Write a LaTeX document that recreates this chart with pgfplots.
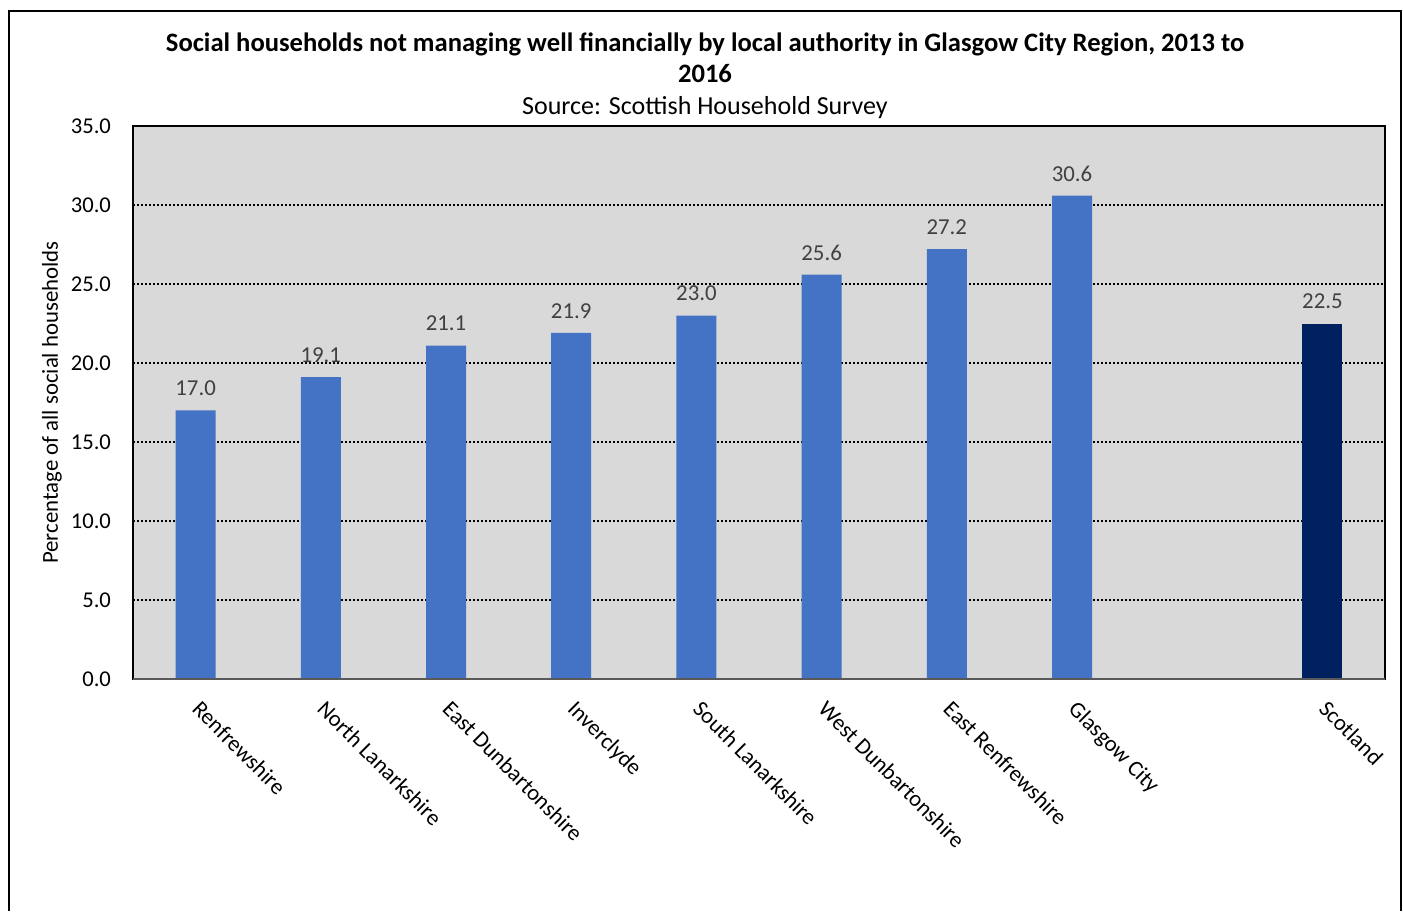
\documentclass[border=0pt]{standalone}
\usepackage{pgfplots}
\pgfplotsset{compat=1.18}
\usepackage{fontspec}
\setmainfont{Carlito}
\definecolor{barblue}{HTML}{4472C4}
\definecolor{navy}{HTML}{002060}
\definecolor{plotbg}{HTML}{D9D9D9}
\definecolor{lbl}{HTML}{404040}
\begin{document}
\begin{tikzpicture}[x=1pt,y=1pt]
\useasboundingbox (0,0) rectangle (701.5,455.5);
\draw[line width=1pt] (4.5,0) -- (4.5,450) -- (700.5,450) -- (700.5,0);
\node[font=\bfseries\fontsize{13.3}{15.5}\selectfont, align=center] at (352.5,426.75)
  {Social households not managing well financially by local authority in Glasgow City Region, 2013 to\\2016};
\node[font=\fontsize{13}{15}\selectfont] at (352.5,401.5) {Source: Scottish Household Survey};
\begin{axis}[
  at={(66.5pt,116pt)}, anchor=south west,
  scale only axis, width=626pt, height=276.5pt,
  ymin=0, ymax=35, ytick={0,5,...,35},
  xmin=-0.5, xmax=9.5,
  xtick={0,1,2,3,4,5,6,7,9},
  xticklabels={Renfrewshire,North Lanarkshire,East Dunbartonshire,Inverclyde,South Lanarkshire,West Dunbartonshire,East Renfrewshire,Glasgow City,Scotland},
  major tick length=0pt,
  axis background/.style={fill=plotbg},
  axis line style={black, line width=1pt},
  ymajorgrids, major grid style={black, line width=1pt, dash pattern=on 1pt off 1pt},
  yticklabel style={font=\fontsize{11.3}{13}\selectfont, anchor=east, xshift=-7.5pt},
  y tick label style={/pgf/number format/.cd, fixed, fixed zerofill, precision=1, assume math mode=true},
  xticklabel style={font=\fontsize{11.3}{13}\selectfont, rotate=-45, anchor=north west, yshift=-1.4pt, xshift=6pt},
  ylabel={Percentage of all social households},
  ylabel style={font=\fontsize{11.4}{13}\selectfont, at={(axis description cs:-0.0647,0.5)}, anchor=center},
  ybar, bar width=20pt, bar shift=0pt,
  nodes near coords={\pgfmathprintnumber[fixed,fixed zerofill,precision=1,assume math mode=true]{\pgfplotspointmeta}},
  every node near coord/.append style={font=\fontsize{11.4}{13}\selectfont, text=lbl, anchor=center, yshift=11pt},
]
\addplot[fill=barblue, draw=none] coordinates {(0,17.0) (1,19.1) (2,21.1) (3,21.9) (4,23.0) (5,25.6) (6,27.2) (7,30.6)};
\addplot[fill=navy, draw=none] coordinates {(9,22.5)};
\draw[gray!70!black, line width=1pt] (rel axis cs:0,0) -- (rel axis cs:1,0);
\end{axis}
\end{tikzpicture}
\end{document}
